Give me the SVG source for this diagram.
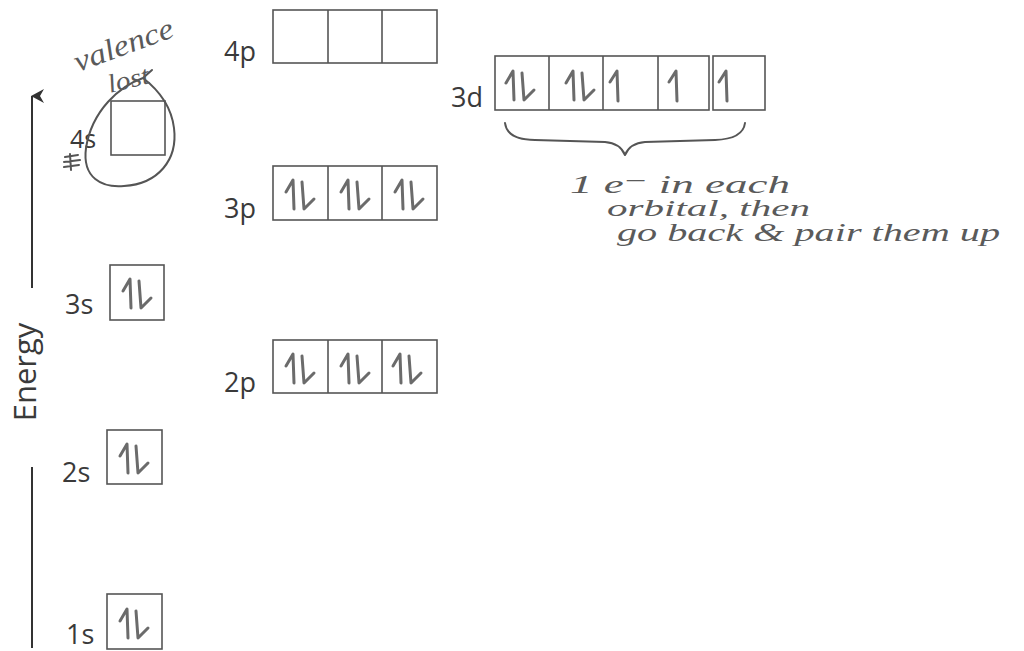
<svg xmlns="http://www.w3.org/2000/svg" width="1024" height="651" viewBox="0 0 1024 651">
<style>
.bg{fill:#ffffff}
.box{fill:none;stroke:#555;stroke-width:1.6}
.lbl{font-family:"Open Sans","DejaVu Sans",sans-serif;font-size:27px;font-weight:500;fill:#3a3a3a}
.spin{fill:none;stroke:#6b6b6b;stroke-width:3;stroke-linecap:round;stroke-linejoin:round}
.hand{font-family:"Liberation Serif","DejaVu Serif",serif;font-style:italic;font-size:25px;fill:#5a5a5a}
.ink{fill:none;stroke:#555;stroke-width:2;stroke-linecap:round;stroke-linejoin:round}
.axis{stroke:#333;stroke-width:2;fill:none}
</style>
<defs>
<marker id="ah" viewBox="0 0 14 14" refX="7" refY="1" markerWidth="14" markerHeight="14" markerUnits="userSpaceOnUse" orient="auto-start-reverse">
<path d="M0 13 L7 0 L14 13 L7 9 Z" fill="#333"/>
</marker>
<g id="pair"><path class="spin" d="M13 25 L20 13 L21 42"/><path class="spin" d="M29 15 L31 42 L41 32"/></g>
<g id="up"><path class="spin" d="M0 12 L7 1 L8 31"/></g>
</defs>
<rect class="bg" x="0" y="0" width="1024" height="651"/>

<g id="axis">
<line class="axis" x1="32" y1="288" x2="32" y2="96" marker-end="url(#ah)"/>
<line class="axis" x1="32" y1="467" x2="32" y2="648"/>
<text class="lbl" transform="translate(36,372) rotate(-90)" text-anchor="middle" style="font-size:31px">Energy</text>
</g>

<g id="node-1s">
<text class="lbl" x="66" y="644">1s</text>
<rect class="box" x="107" y="594" width="55" height="55"/>
<use href="#pair" x="107" y="596"/>
</g>
<g id="node-2s">
<text class="lbl" x="62" y="482">2s</text>
<rect class="box" x="107" y="430" width="55" height="54"/>
<use href="#pair" x="107" y="431"/>
</g>
<g id="node-3s">
<text class="lbl" x="65" y="314">3s</text>
<rect class="box" x="110" y="265" width="54" height="55"/>
<use href="#pair" x="110" y="266"/>
</g>
<g id="node-4s">
<text class="lbl" x="70" y="148" style="font-size:25px;font-weight:400">4s</text>
<rect class="box" x="111" y="101" width="54" height="54"/>
<path class="ink" d="M143 78 C120 86 92 110 86 148 C82 178 102 188 124 186 C158 184 178 160 174 128 C171 104 156 88 143 78 M143 78 L152 70"/>
<path class="ink" d="M65 157 L78 155 M64 162 L80 160 M64 167 L79 165 M70 154 L71 170"/>
<text class="hand" transform="translate(78,72) rotate(-20)" textLength="104" lengthAdjust="spacingAndGlyphs" style="font-size:30px">valence</text>
<text class="hand" transform="translate(110,93) rotate(-14)" textLength="42" lengthAdjust="spacingAndGlyphs" style="font-size:26px">lost</text>
</g>

<g id="node-2p">
<text class="lbl" x="224" y="392">2p</text>
<rect class="box" x="273" y="340" width="164" height="53"/>
<line class="box" x1="328" y1="340" x2="328" y2="393"/>
<line class="box" x1="382" y1="340" x2="382" y2="393"/>
<use href="#pair" x="273" y="341"/>
<use href="#pair" x="328" y="341"/>
<use href="#pair" x="380" y="341"/>
</g>
<g id="node-3p">
<text class="lbl" x="224" y="218">3p</text>
<rect class="box" x="273" y="166" width="164" height="54"/>
<line class="box" x1="328" y1="166" x2="328" y2="220"/>
<line class="box" x1="382" y1="166" x2="382" y2="220"/>
<use href="#pair" x="273" y="167"/>
<use href="#pair" x="328" y="167"/>
<use href="#pair" x="382" y="167"/>
</g>
<g id="node-4p">
<text class="lbl" x="224" y="61">4p</text>
<rect class="box" x="273" y="10" width="164" height="53"/>
<line class="box" x1="328" y1="10" x2="328" y2="63"/>
<line class="box" x1="382" y1="10" x2="382" y2="63"/>
</g>

<g id="node-3d">
<text class="lbl" x="451" y="107">3d</text>
<rect class="box" x="495" y="56" width="214" height="54"/>
<line class="box" x1="549" y1="56" x2="549" y2="110"/>
<line class="box" x1="603" y1="56" x2="603" y2="110"/>
<line class="box" x1="658" y1="56" x2="658" y2="110"/>
<rect class="box" x="713" y="56" width="52" height="54"/>
<use href="#pair" x="493" y="58"/>
<use href="#pair" x="553" y="58"/>
<use href="#up" x="610" y="70"/>
<use href="#up" x="669" y="70"/>
<use href="#up" x="719" y="70"/>
</g>

<g id="note">
<path class="ink" d="M505 123 Q507 140 535 140 L605 142 Q620 143 625 155 Q630 143 645 142 L715 140 Q743 139 745 123"/>
<text class="hand" x="570" y="193" textLength="220" lengthAdjust="spacingAndGlyphs">1 e⁻ in each</text>
<text class="hand" x="607" y="216" textLength="203" lengthAdjust="spacingAndGlyphs" style="font-size:23px">orbital, then</text>
<text class="hand" x="617" y="241" textLength="383" lengthAdjust="spacingAndGlyphs">go back &amp; pair them up</text>
</g>
</svg>
